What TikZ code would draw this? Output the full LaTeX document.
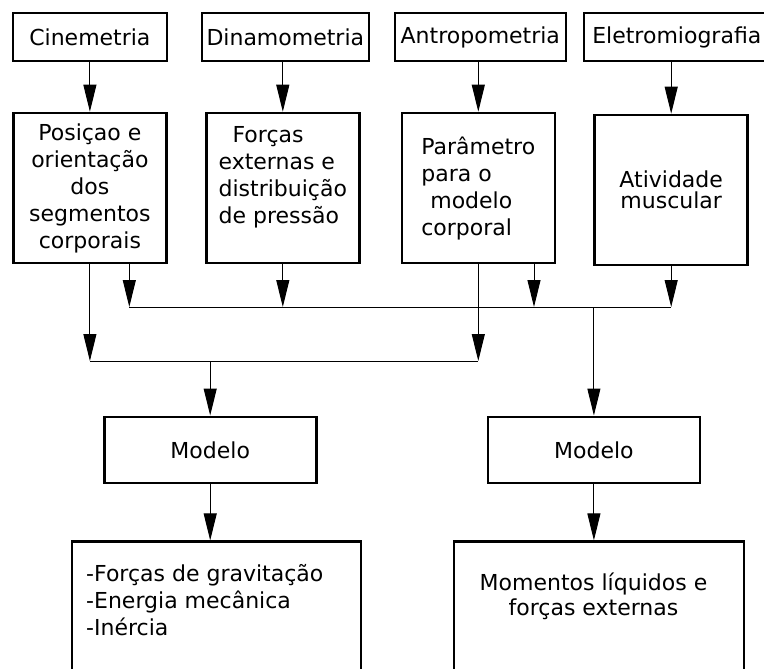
\documentclass[tikz,border=0pt]{standalone}
\usepackage{fontspec}
\setmainfont{DejaVu Sans}
\usetikzlibrary{arrows.meta, calc}

\begin{document}
\begin{tikzpicture}[
  x=1pt, y=-1pt,
  >={Triangle[length=27pt, width=13pt]},
  every node/.style={font=\fontsize{22}{27}\selectfont},
  box/.style    = {draw, line width=2.6pt, inner sep=0pt, align=center},
  src/.style    = {box, minimum height=48pt},
  meas/.style   = {box, minimum width=153pt, minimum height=150pt},
  model/.style  = {box, minimum width=212pt, minimum height=66pt},
  result/.style = {box, minimum width=290pt, minimum height=180pt},
  txt/.style    = {inner sep=0pt},
  arr/.style    = {->, line width=1pt},
  bus/.style    = {line width=1pt},
]
  \clip (0,0) rectangle (764,669);
  % Techniques, top row.
  \node[src, minimum width=154pt] (cin) at (89.9,37)  {Cinemetria};
  \node[src, minimum width=167pt] (din) at (285.3,37) {Dinamometria};
  \node[src, minimum width=171pt] (ant) at (480.3,37) {Antropometria};
  \node[src, minimum width=186pt] (ele) at (676.8,37) {Eletromiografia};
  % What each technique measures.
  \node[meas] (pos) at (89.9,188)  {Posiçao e\\orientação\\dos\\segmentos\\corporais};
  \node[meas, align=left] (frc) at (282.8,188) {\hspace{14pt}Forças\\externas e\\distribuição\\de pressão\\\mbox{}};
  \node[meas, align=left] (par) at (478.3,188) {Parâmetro\\para o\\\hspace{9pt}modelo\\corporal};
  \node[meas, font=\fontsize{22}{21}\selectfont] (atv) at (671.2,190) {Atividade\\muscular};
  \foreach \a/\b in {cin/pos, din/frc, ant/par, ele/atv}
     \draw[arr] (\b.north |- \a.south) -- (\b.north);
  % Collecting buses.
  \coordinate (upbus)  at (0,307);
  \coordinate (lowbus) at (0,361);
  \coordinate (up1) at (129.3,307);
  \coordinate (up2) at (534,307);
  \draw[arr] (pos.south) -- (pos.south |- lowbus);
  \draw[arr] (par.south) -- (par.south |- lowbus);
  \draw[arr] (up1 |- pos.south) -- (up1);
  \draw[arr] (frc.south) -- (frc.south |- upbus);
  \draw[arr] (up2 |- par.south) -- (up2);
  \draw[arr] (atv.south) -- (atv.south |- upbus);
  \draw[bus] (up1) -- (atv.south |- upbus);
  \draw[bus] (pos.south |- lowbus) -- (par.south |- lowbus);
  % Models and their results.
  \node[model] (mdl) at (210.2,449.8) {Modelo};
  \node[model] (mdr) at (593.9,449.8) {Modelo};
  \draw[arr] (mdl.north |- lowbus) -- (mdl.north);
  \draw[arr] (mdr.north |- upbus) -- (mdr.north);
  \node[result, minimum width=289pt] (resl) at (216.4,631.7) {};
  \node[result] (resr) at (599,631.7) {};
  \draw[arr] (mdl.south) -- (mdl.south |- resl.north);
  \draw[arr] (mdr.south) -- (mdr.south |- resr.north);
  \node[txt, align=left, anchor=west] (resltxt) at (86,600) {-Forças de gravitação\\-Energia mecânica\\-Inércia};
  \node[txt, align=center, font=\fontsize{22}{25}\selectfont] (resrtxt) at (593.5,596) {Momentos líquidos e\\forças externas};
\end{tikzpicture}
\end{document}
